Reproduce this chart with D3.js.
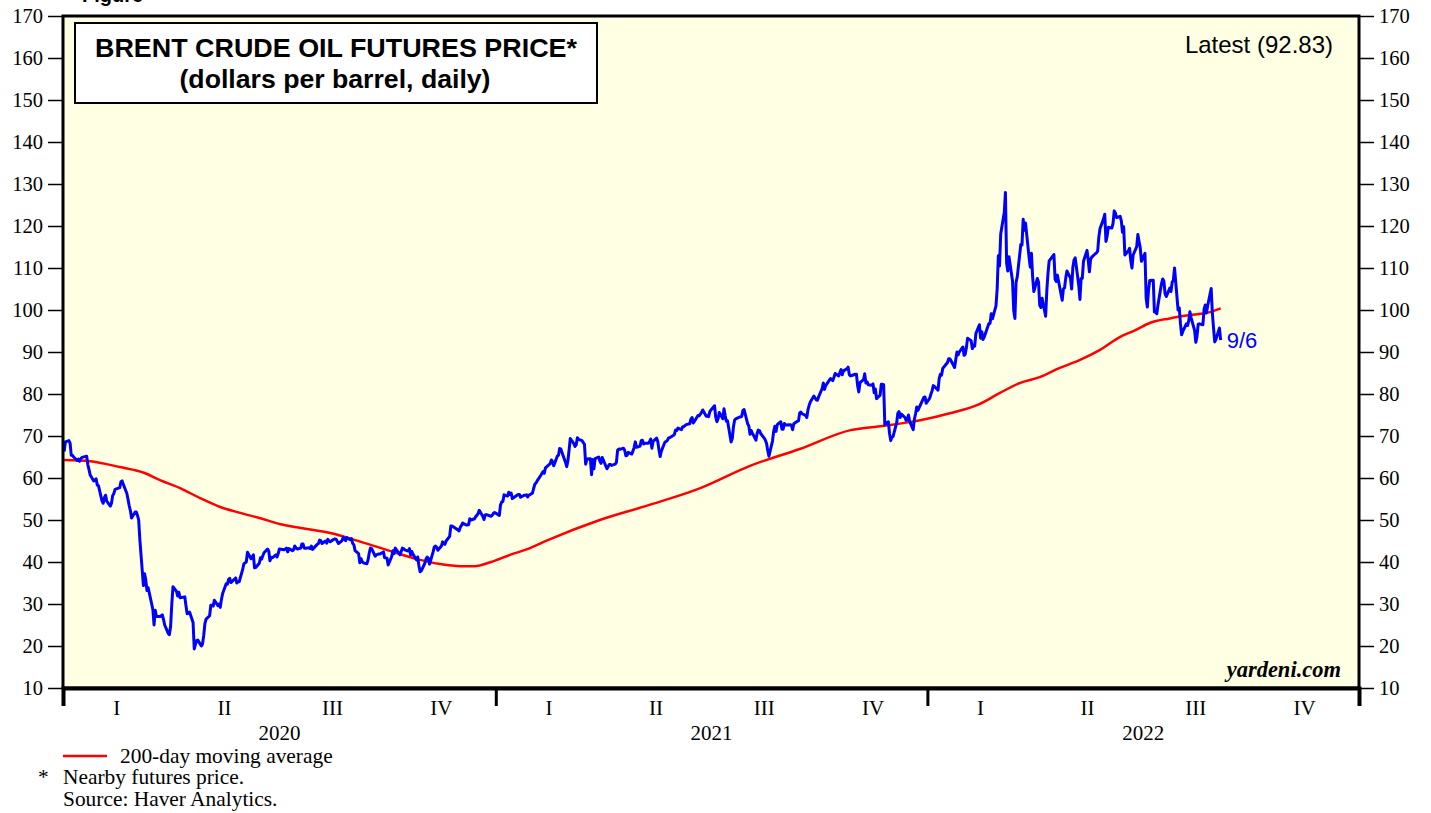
<!DOCTYPE html>
<html>
<head>
<meta charset="utf-8" />
<title>Brent Crude Oil Futures Price</title>
<script src="https://d3js.org/d3.v7.min.js"></script>
<style>
  body { margin: 0; background: #fff; }
  text { fill: #000; }
</style>
</head>
<body>
<svg width="1431" height="813"></svg>
<script>
// Brent nearby futures, $/bbl, [month-day, price]
const brent2020 = [
  ["01-02",66.3],["01-03",68.6],["01-06",68.9],["01-07",68.3],["01-08",65.4],["01-09",65.4],["01-10",65],
  ["01-13",64.2],["01-14",64.5],["01-15",64],["01-16",64.6],["01-17",64.9],["01-21",65.2],["01-22",63.2],
  ["01-23",62],["01-24",60.7],["01-27",59.3],["01-28",59.5],["01-29",59.8],["01-30",58.3],["01-31",58.2],
  ["02-03",54.5],["02-04",54],["02-05",55.3],["02-06",55.9],["02-07",54.5],["02-10",53.3],["02-11",54],
  ["02-12",55.8],["02-13",56.3],["02-14",57.3],["02-18",57.7],["02-19",59.1],["02-20",59.3],["02-21",58.5],
  ["02-24",56.3],["02-25",54.9],["02-26",53.4],["02-27",52.2],["02-28",50.5],["03-02",51.9],["03-03",51.9],
  ["03-04",51.1],["03-05",50],["03-06",45.3],["03-09",34.4],["03-10",37.2],["03-11",35.8],["03-12",33.2],
  ["03-13",33.9],["03-16",30],["03-17",28.7],["03-18",25],["03-19",28.5],["03-20",27],["03-23",27],
  ["03-24",27.2],["03-25",27.4],["03-26",26.3],["03-27",25],["03-30",23],["03-31",22.7],["04-01",24.7],
  ["04-02",29.9],["04-03",34.1],["04-06",33],["04-07",31.9],["04-08",32.8],["04-09",31.5],["04-13",31.7],
  ["04-14",29.6],["04-15",27.7],["04-16",27.8],["04-17",28.1],["04-20",25.6],["04-21",19.3],["04-22",20.4],
  ["04-23",21.3],["04-24",21.4],["04-27",20],["04-28",20.5],["04-29",22.5],["04-30",25.3],["05-01",26.4],
  ["05-04",27.2],["05-05",29.7],["05-06",29.7],["05-07",29.5],["05-08",30.9],["05-11",29.6],["05-12",30],
  ["05-13",29.2],["05-14",31.1],["05-15",32.5],["05-18",34.8],["05-19",34.7],["05-20",35.8],["05-21",36.1],
  ["05-22",35.1],["05-26",36.2],["05-27",35],["05-28",35.3],["05-29",35.3],["06-01",38.3],["06-02",39.6],
  ["06-03",39.8],["06-04",40],["06-05",42.3],["06-08",40.8],["06-09",41.2],["06-10",41.7],["06-11",38.6],
  ["06-12",38.7],["06-15",39.7],["06-16",41],["06-17",40.7],["06-18",41.5],["06-19",42.2],["06-22",43.1],
  ["06-23",42.6],["06-24",40.3],["06-25",41.1],["06-26",41],["06-29",41.7],["06-30",41.2],["07-01",42],
  ["07-02",43.1],["07-06",42.9],["07-07",43.1],["07-08",43.3],["07-09",42.4],["07-10",43.2],["07-13",42.7],
  ["07-14",42.9],["07-15",43.8],["07-16",43.4],["07-17",43.1],["07-20",43.3],["07-21",44.3],["07-22",44.3],
  ["07-23",43.3],["07-24",43.3],["07-27",43.4],["07-28",43.2],["07-29",43.8],["07-30",43],["07-31",43.3],
  ["08-03",44.2],["08-04",44.4],["08-05",45.2],["08-06",45.1],["08-07",44.4],["08-10",45],["08-11",44.5],
  ["08-12",45.4],["08-13",45],["08-14",44.8],["08-17",45.4],["08-18",45.5],["08-19",45.4],["08-20",44.9],
  ["08-21",44.4],["08-24",45.1],["08-25",45.9],["08-26",45.6],["08-27",45.1],["08-28",45.8],["08-31",45.3],
  ["09-01",45.6],["09-02",44.4],["09-03",44.1],["09-04",42.7],["09-07",42],["09-08",39.8],["09-09",40.8],
  ["09-10",40.1],["09-11",39.8],["09-14",39.6],["09-15",40.5],["09-16",42.2],["09-17",43.3],["09-18",43.2],
  ["09-21",41.4],["09-22",41.7],["09-23",41.8],["09-24",41.9],["09-25",41.9],["09-28",42.4],["09-29",41],
  ["09-30",41],["10-01",40.9],["10-02",39.3],["10-05",41.3],["10-06",42.7],["10-07",42],["10-08",43.3],
  ["10-09",42.9],["10-12",41.7],["10-13",42.5],["10-14",43.3],["10-15",43.2],["10-16",42.9],["10-19",42.6],
  ["10-20",43.2],["10-21",41.7],["10-22",42.5],["10-23",41.8],["10-26",40.5],["10-27",41.2],["10-28",39.1],
  ["10-29",37.7],["10-30",37.9],["11-02",39.7],["11-03",40.7],["11-04",41.2],["11-05",40.9],["11-06",39.5],
  ["11-09",42.4],["11-10",43.6],["11-11",43.8],["11-12",43.5],["11-13",42.8],["11-16",43.8],["11-17",44.8],
  ["11-18",44.3],["11-19",44.2],["11-20",45],["11-23",46.1],["11-24",48.6],["11-25",48.6],["11-27",48.2],
  ["11-30",47.6],["12-01",47.4],["12-02",48.3],["12-03",48.7],["12-04",49.3],["12-07",48.8],["12-08",48.8],
  ["12-09",48.9],["12-10",50.3],["12-11",50],["12-14",50.3],["12-15",50.8],["12-16",51.1],["12-17",51.5],
  ["12-18",52.3],["12-21",50.9],["12-22",50.1],["12-23",51.2],["12-24",51.3],["12-28",50.9],["12-29",51.1],
  ["12-30",51.6],["12-31",51.8]
];
const brent2021 = [
  ["01-04",51.1],["01-05",53.6],["01-06",54.3],["01-07",54.4],["01-08",56],["01-11",55.7],["01-12",56.6],
  ["01-13",56.1],["01-14",56.4],["01-15",55.1],["01-19",55.9],["01-20",56.1],["01-21",56.1],["01-22",55.4],
  ["01-25",55.9],["01-26",55.9],["01-27",56],["01-28",55.5],["01-29",55.9],["02-01",56.4],["02-02",57.5],
  ["02-03",58.5],["02-04",58.8],["02-05",59.3],["02-08",60.6],["02-09",61.1],["02-10",61.5],["02-11",61.1],
  ["02-12",62.4],["02-16",63.4],["02-17",64.3],["02-18",63.9],["02-19",62.9],["02-22",65.2],["02-23",65.4],
  ["02-24",67],["02-25",66.9],["02-26",66.1],["03-01",63.7],["03-02",62.7],["03-03",64.1],["03-04",66.7],
  ["03-05",69.4],["03-08",68.2],["03-09",67.5],["03-10",67.9],["03-11",69.6],["03-12",69.2],["03-15",68.9],
  ["03-16",68.4],["03-17",68],["03-18",63.3],["03-19",64.5],["03-22",64.6],["03-23",60.8],["03-24",64.4],
  ["03-25",62.2],["03-26",64.6],["03-29",65],["03-30",64.1],["03-31",63.5],["04-01",64.9],["04-05",62.2],
  ["04-06",62.7],["04-07",63.2],["04-08",63.2],["04-09",63],["04-12",63.3],["04-13",63.7],["04-14",66.6],
  ["04-15",66.9],["04-16",66.8],["04-19",67.1],["04-20",66.6],["04-21",65.3],["04-22",65.4],["04-23",66.1],
  ["04-26",65.7],["04-27",66.4],["04-28",67.3],["04-29",68.6],["04-30",67.3],["05-03",67.6],["05-04",68.9],
  ["05-05",69],["05-06",68.1],["05-07",68.3],["05-10",68.3],["05-11",68.6],["05-12",69.3],["05-13",67.1],
  ["05-14",68.7],["05-17",69.5],["05-18",68.7],["05-19",66.7],["05-20",65.1],["05-21",66.4],["05-24",68.5],
  ["05-25",68.7],["05-26",68.9],["05-27",69.5],["05-28",69.6],["06-01",70.3],["06-02",71.4],["06-03",71.3],
  ["06-04",71.9],["06-07",71.5],["06-08",72.2],["06-09",72.2],["06-10",72.5],["06-11",72.7],["06-14",72.9],
  ["06-15",74],["06-16",74.4],["06-17",73.1],["06-18",73.5],["06-21",74.9],["06-22",74.8],["06-23",75.2],
  ["06-24",75.6],["06-25",76.2],["06-28",74.7],["06-29",74.8],["06-30",74.6],["07-01",75.8],["07-02",76.2],
  ["07-05",77.2],["07-06",74.5],["07-07",73.4],["07-08",74.1],["07-09",75.6],["07-12",74.1],["07-13",76.5],
  ["07-14",74.8],["07-15",73.5],["07-16",73.6],["07-19",68.6],["07-20",69.4],["07-21",72.2],["07-22",73.8],
  ["07-23",74.1],["07-26",74.5],["07-27",74.5],["07-28",74.7],["07-29",76.1],["07-30",76.3],["08-02",72.9],
  ["08-03",72.4],["08-04",70.4],["08-05",71.3],["08-06",70.7],["08-09",69],["08-10",70.6],["08-11",71.4],
  ["08-12",71.3],["08-13",70.6],["08-16",69.5],["08-17",69],["08-18",68.2],["08-19",66.5],["08-20",65.2],
  ["08-23",68.8],["08-24",71.1],["08-25",72.3],["08-26",71.1],["08-27",72.7],["08-30",73.4],["08-31",71.6],
  ["09-01",71.6],["09-02",73],["09-03",72.6],["09-07",72.7],["09-08",72.6],["09-09",71.5],["09-10",72.9],
  ["09-13",73.5],["09-14",73.6],["09-15",75.5],["09-16",75.7],["09-17",75.3],["09-20",74.9],["09-21",74.4],
  ["09-22",76.2],["09-23",77.3],["09-24",78.1],["09-27",79.5],["09-28",79.1],["09-29",78.6],["09-30",78.5],
  ["10-01",79.3],["10-04",81.3],["10-05",82.6],["10-06",81.1],["10-07",82],["10-08",82.4],["10-11",83.7],
  ["10-12",83.4],["10-13",83.2],["10-14",84],["10-15",84.9],["10-18",84.3],["10-19",85.1],["10-20",85.8],
  ["10-21",84.6],["10-22",85.5],["10-25",86],["10-26",86.4],["10-27",84.6],["10-28",84.3],["10-29",84.4],
  ["11-01",84.7],["11-02",84.7],["11-03",82],["11-04",80.5],["11-05",82.7],["11-08",83.4],["11-09",84.8],
  ["11-10",82.6],["11-11",82.9],["11-12",82.2],["11-15",82.1],["11-16",82.4],["11-17",80.3],["11-18",81.2],
  ["11-19",78.9],["11-22",79.7],["11-23",82.3],["11-24",82.3],["11-25",82.2],["11-26",72.7],["11-29",73.4],
  ["11-30",70.6],["12-01",68.9],["12-02",69.7],["12-03",69.9],["12-06",73.1],["12-07",75.4],["12-08",75.8],
  ["12-09",74.4],["12-10",75.2],["12-13",74.4],["12-14",73.7],["12-15",73.9],["12-16",75],["12-17",73.5],
  ["12-20",71.5],["12-21",74],["12-22",75.3],["12-23",76.9],["12-24",76.1],["12-29",79.2],["12-30",79.3],
  ["12-31",77.8]
];
const brent2022 = [
  ["01-03",79],["01-04",80],["01-05",80.8],["01-06",82],["01-07",81.8],["01-10",80.9],["01-11",83.7],
  ["01-12",84.7],["01-13",84.5],["01-14",86.1],["01-18",87.5],["01-19",88.4],["01-20",88.4],["01-21",87.9],
  ["01-24",86.3],["01-25",88.2],["01-26",90],["01-27",89.3],["01-28",90],["01-31",91.2],["02-01",89.2],
  ["02-02",89.5],["02-03",91.1],["02-04",93.3],["02-07",92.7],["02-08",90.8],["02-09",91.6],["02-10",91.4],
  ["02-11",94.4],["02-14",96.5],["02-15",93.3],["02-16",94.8],["02-17",93],["02-18",93.5],["02-22",96.8],
  ["02-23",96.8],["02-24",99.1],["02-25",97.9],["02-28",101],["03-01",105],["03-02",112.9],["03-03",110.5],
  ["03-04",118.1],["03-07",123.2],["03-08",128],["03-09",111.1],["03-10",109.3],["03-11",112.7],["03-14",106.9],
  ["03-15",99.9],["03-16",98],["03-17",106.6],["03-18",107.9],["03-21",115.6],["03-22",115.5],["03-23",121.6],
  ["03-24",119],["03-25",120.7],["03-28",112.5],["03-29",110.2],["03-30",113.5],["03-31",107.9],["04-01",104.4],
  ["04-04",107.5],["04-05",106.6],["04-06",101.1],["04-07",100.6],["04-08",102.8],["04-11",98.5],["04-12",104.6],
  ["04-13",108.8],["04-14",111.7],["04-18",113.2],["04-19",107.3],["04-20",106.8],["04-21",108.3],["04-22",106.7],
  ["04-25",102.3],["04-26",105],["04-27",105.3],["04-28",107.6],["04-29",109.3],["05-02",107.6],["05-03",105],
  ["05-04",110.1],["05-05",111.9],["05-06",112.4],["05-09",105.9],["05-10",102.5],["05-11",107.5],["05-12",107.5],
  ["05-13",111.6],["05-16",114.2],["05-17",111.9],["05-18",109.1],["05-19",112],["05-20",112.6],["05-23",113.4],
  ["05-24",113.6],["05-25",114],["05-26",117.4],["05-27",119.4],["05-30",121.7],["05-31",122.8],["06-01",116.3],
  ["06-02",117.6],["06-03",119.7],["06-06",119.5],["06-07",120.6],["06-08",123.6],["06-09",123.1],["06-10",122],
  ["06-13",122.3],["06-14",121.2],["06-15",118.5],["06-16",119.8],["06-17",113.1],["06-20",114.1],["06-21",114.7],
  ["06-22",111.7],["06-23",110],["06-24",113.1],["06-27",115.1],["06-28",118],["06-29",116.3],["06-30",114.8],
  ["07-01",111.6],["07-04",113.5],["07-05",102.8],["07-06",100.7],["07-07",104.7],["07-08",107],["07-11",107.1],
  ["07-12",99.5],["07-13",99.6],["07-14",99.1],["07-15",101.2],["07-18",106.3],["07-19",107.4],["07-20",106.9],
  ["07-21",103.9],["07-22",103.2],["07-25",105.2],["07-26",104.4],["07-27",106.6],["07-28",107.1],["07-29",110],
  ["08-01",100],["08-02",100.5],["08-03",96.8],["08-04",94.1],["08-05",94.9],["08-08",96.7],["08-09",96.3],
  ["08-10",97.4],["08-11",99.6],["08-12",98.2],["08-15",95.1],["08-16",92.3],["08-17",93.7],["08-18",96.6],
  ["08-19",96.7],["08-22",96.5],["08-23",100.2],["08-24",101.2],["08-25",99.3],["08-26",101],["08-29",105.1],
  ["08-30",99.3],["08-31",95.6],["09-01",92.4],["09-02",93],["09-05",95.7],["09-06",92.83]
];
// 200-day moving average
const maDates = [
  "2020-01-02","2020-01-24","2020-02-18","2020-03-10","2020-03-23","2020-04-09","2020-04-26","2020-05-13",
  "2020-05-30","2020-06-16","2020-07-03","2020-07-20","2020-08-14","2020-09-09","2020-10-04","2020-10-29",
  "2020-11-15","2020-12-02","2020-12-14","2020-12-28","2021-01-13","2021-01-30","2021-02-14","2021-03-30",
  "2021-05-11","2021-06-23","2021-08-04","2021-09-15","2021-10-28","2021-11-24","2021-12-17","2021-12-27",
  "2022-01-20","2022-02-14","2022-03-03","2022-03-20","2022-04-06","2022-04-23","2022-05-10","2022-05-27",
  "2022-06-13","2022-06-26","2022-07-08","2022-07-25","2022-08-11","2022-08-28","2022-09-06"
];
const maValues = [
  64.3,64,62.6,61.2,59.5,57.6,55.2,53.1,
  51.7,50.4,49,48.1,46.9,44.8,42.6,40.5,
  39.5,39,39,40,41.7,43.3,45.2,50,
  53.6,57.6,62.9,66.9,71.4,72.4,73.3,73.8,
  75.4,77.6,80.2,82.6,84,86.2,88.1,90.5,
  93.6,95.2,96.9,98,98.8,99.5,100.4
];
const yTicks = d3.range(10, 171, 10);
const years = [2020, 2021, 2022];
const quarterNames = ["I", "II", "III", "IV"];
const latestValue = 92.83;
const latestLabel = "9/6";

const parse = d3.timeParse("%Y-%m-%d");
const price = [];
[[2020, brent2020], [2021, brent2021], [2022, brent2022]].forEach(([yr, arr]) => {
  arr.forEach(([md, v]) => price.push({ date: parse(yr + "-" + md), value: v }));
});
const ma = maDates.map((d, i) => ({ date: parse(d), value: maValues[i] }));

const svg = d3.select("svg");
const plotL = 63, plotR = 1359, plotT = 16, plotB = 688;
const serif = "'Liberation Serif', 'Times New Roman', serif";
const sans = "'Liberation Sans', Arial, sans-serif";

const x = d3.scaleTime()
  .domain([new Date(2020, 0, 1), new Date(2023, 0, 1)])
  .range([plotL, plotR]);
const y = d3.scaleLinear().domain([10, 170]).range([plotB, plotT]);

// background
svg.append("rect")
  .attr("x", plotL).attr("y", plotT)
  .attr("width", plotR - plotL).attr("height", plotB - plotT)
  .attr("fill", "#ffffe3");

// title box
svg.append("rect")
  .attr("x", 75).attr("y", 23).attr("width", 522).attr("height", 80)
  .attr("fill", "#fff").attr("stroke", "#000").attr("stroke-width", 2);
svg.append("text").attr("x", 336).attr("y", 57)
  .attr("text-anchor", "middle").attr("font-family", sans).attr("font-weight", "bold")
  .attr("font-size", 25).attr("textLength", 482).attr("lengthAdjust", "spacingAndGlyphs")
  .text("BRENT CRUDE OIL FUTURES PRICE*");
svg.append("text").attr("x", 335).attr("y", 88)
  .attr("text-anchor", "middle").attr("font-family", sans).attr("font-weight", "bold")
  .attr("font-size", 25).attr("textLength", 311).attr("lengthAdjust", "spacingAndGlyphs")
  .text("(dollars per barrel, daily)");

svg.append("text").attr("x", 1333).attr("y", 53)
  .attr("text-anchor", "end").attr("font-family", sans).attr("font-size", 24)
  .text("Latest (" + latestValue.toFixed(2) + ")");

svg.append("text").attr("x", 1341).attr("y", 677)
  .attr("text-anchor", "end").attr("font-family", serif).attr("font-weight", "bold")
  .attr("font-style", "italic").attr("font-size", 22.5).text("yardeni.com");

// lines
const maLine = d3.line().curve(d3.curveMonotoneX).x(d => x(d.date)).y(d => y(d.value));
svg.append("path").datum(ma).attr("d", maLine)
  .attr("fill", "none").attr("stroke", "#ff0000").attr("stroke-width", 2.5);
const priceLine = d3.line().x(d => x(d.date)).y(d => y(d.value));
svg.append("path").datum(price).attr("d", priceLine)
  .attr("fill", "none").attr("stroke", "#0000ff").attr("stroke-width", 3)
  .attr("stroke-linejoin", "round");

const last = price[price.length - 1];
svg.append("text").attr("x", x(last.date) + 6).attr("y", y(last.value) + 8)
  .attr("font-family", sans).attr("font-size", 22)
  .style("fill", "#0000ff").text(latestLabel);

// frame
svg.append("rect")
  .attr("x", plotL).attr("y", plotT)
  .attr("width", plotR - plotL).attr("height", plotB - plotT)
  .attr("fill", "none").attr("stroke", "#000").attr("stroke-width", 3);

// y axes
function styleAxis(g) {
  g.select(".domain").remove();
  g.selectAll(".tick line").attr("stroke", "#000").attr("stroke-width", 1.5);
  g.selectAll(".tick text").attr("font-family", serif).attr("font-size", 20.5).attr("fill", "#000");
}
svg.append("g").attr("transform", `translate(${plotL},0)`)
  .call(d3.axisLeft(y).tickValues(yTicks).tickSize(15).tickPadding(5))
  .call(styleAxis);
svg.append("g").attr("transform", `translate(${plotR},0)`)
  .call(d3.axisRight(y).tickValues(yTicks).tickSize(15).tickPadding(5))
  .call(styleAxis);

// x axis: year boundaries
const yearStarts = years.concat([2023]).map(yr => new Date(yr, 0, 1));
svg.append("g").attr("transform", `translate(0,${plotB})`)
  .call(d3.axisBottom(x).tickValues(yearStarts).tickSize(18).tickFormat(""))
  .call(g => {
    g.select(".domain").attr("stroke", "#000").attr("stroke-width", 4);
    g.selectAll(".tick line").attr("stroke", "#000").attr("stroke-width", 3);
  });

years.forEach(yr => {
  quarterNames.forEach((q, i) => {
    const mid = new Date((+new Date(yr, i * 3, 1) + +new Date(yr, i * 3 + 3, 1)) / 2);
    svg.append("text").attr("x", x(mid)).attr("y", 715)
      .attr("text-anchor", "middle").attr("font-family", serif).attr("font-size", 21).text(q);
  });
  const midYear = new Date((+new Date(yr, 0, 1) + +new Date(yr + 1, 0, 1)) / 2);
  svg.append("text").attr("x", x(midYear)).attr("y", 740)
    .attr("text-anchor", "middle").attr("font-family", serif).attr("font-size", 21).text(yr);
});

// legend and notes
svg.append("line").attr("x1", 63).attr("x2", 107).attr("y1", 756).attr("y2", 756)
  .attr("stroke", "#ff0000").attr("stroke-width", 2.5);
svg.append("text").attr("x", 120).attr("y", 763)
  .attr("font-family", serif).attr("font-size", 21.4).text("200-day moving average");
svg.append("text").attr("x", 38).attr("y", 784)
  .attr("font-family", serif).attr("font-size", 21.4).text("*");
svg.append("text").attr("x", 63).attr("y", 784)
  .attr("font-family", serif).attr("font-size", 21.4).text("Nearby futures price.");
svg.append("text").attr("x", 63).attr("y", 806)
  .attr("font-family", serif).attr("font-size", 21.4).text("Source: Haver Analytics.");

// figure caption, cropped at the top edge as in the source
svg.append("text").attr("x", 82).attr("y", 2)
  .attr("font-family", sans).attr("font-weight", "bold").attr("font-size", 20).text("Figure");
</script>
</body>
</html>
